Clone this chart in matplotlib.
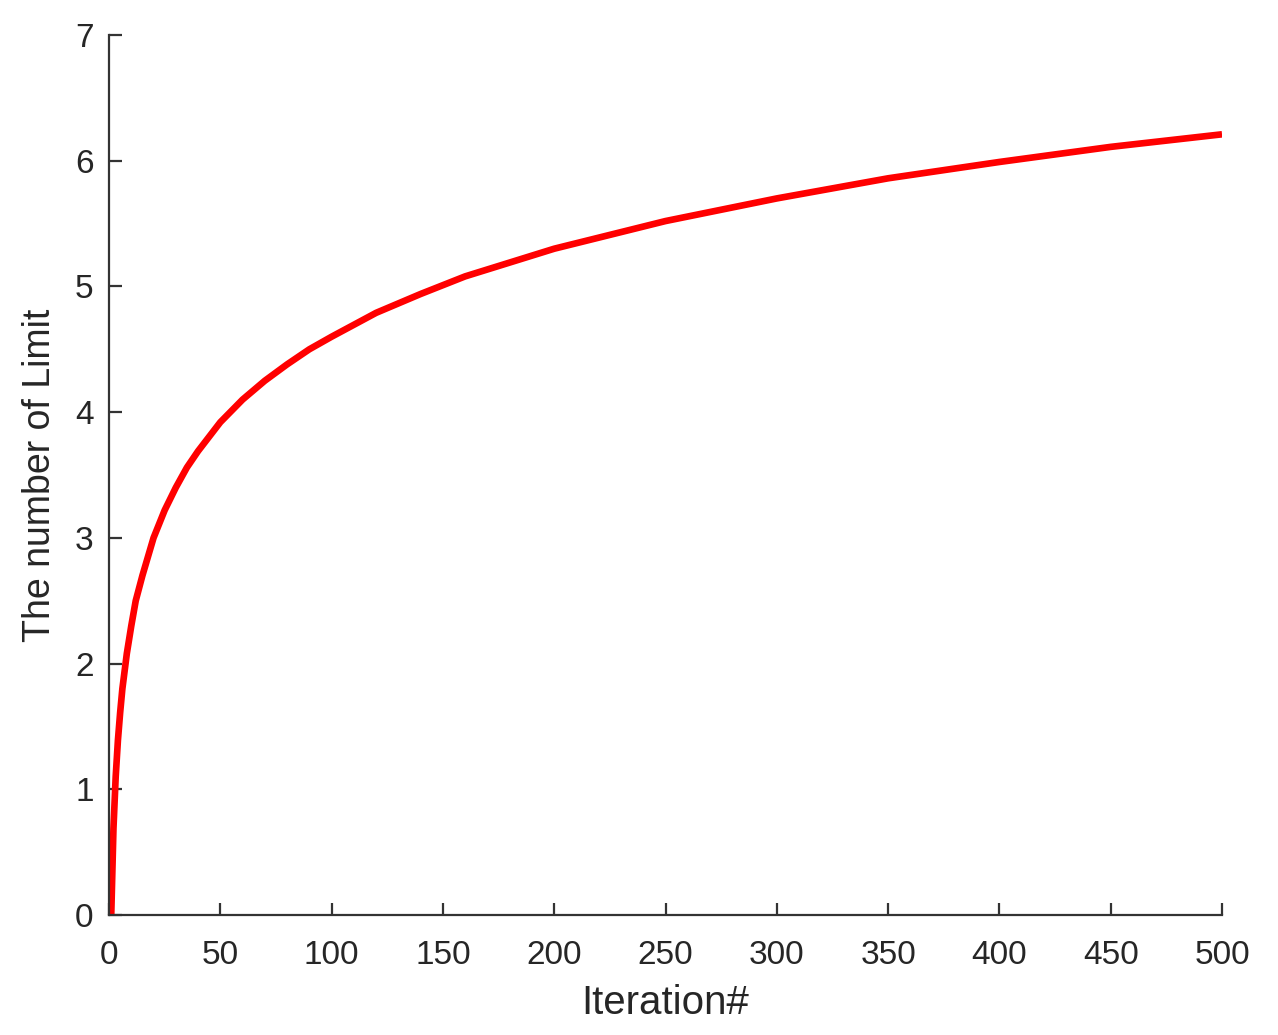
import matplotlib
matplotlib.use('Agg')
from matplotlib import pyplot as plt

# values
iteration = [1, 2, 3, 4, 5, 6, 8, 10, 12, 15, 20, 25, 30, 35, 40, 50, 60, 70, 80, 90,
             100, 120, 140, 160, 180, 200, 250, 300, 350, 400, 450, 500]
limit = [0, 0.69, 1.1, 1.39, 1.61, 1.8, 2.08, 2.3, 2.5, 2.7, 3.0, 3.22, 3.4, 3.56, 3.69,
         3.92, 4.1, 4.25, 4.38, 4.5, 4.6, 4.79, 4.94, 5.08, 5.19, 5.3, 5.52, 5.7, 5.86,
         5.99, 6.11, 6.21]
xticks = [0, 50, 100, 150, 200, 250, 300, 350, 400, 450, 500]
yticks = [0, 1, 2, 3, 4, 5, 6, 7]

plt.rcParams['font.family'] = ['Liberation Sans', 'DejaVu Sans']
fig = plt.figure(figsize=(12.78, 10.35), dpi=100)
ax = fig.add_axes([0.0853, 0.1159, 0.8709, 0.8503])

ax.plot(iteration, limit, color='#ff0000', linewidth=4.8, solid_capstyle='butt')

ax.set_xlim(0, 500)
ax.set_ylim(0, 7)
ax.set_xticks(xticks)
ax.set_yticks(yticks)
ax.set_xlabel('Iteration#', fontsize=29, color='#262626', labelpad=9)
ax.set_ylabel('The number of Limit', fontsize=27, color='#262626', labelpad=12)

ax.spines['top'].set_visible(False)
ax.spines['right'].set_visible(False)
for s in ['left', 'bottom']:
    ax.spines[s].set_color('#333333')
    ax.spines[s].set_linewidth(1.6)
ax.tick_params(direction='in', length=9, width=1.6, colors='#333333',
               labelsize=24, labelcolor='#262626')
ax.tick_params(axis='x', pad=18)
ax.tick_params(axis='y', pad=11)

fig.savefig('out.png', dpi=100)
